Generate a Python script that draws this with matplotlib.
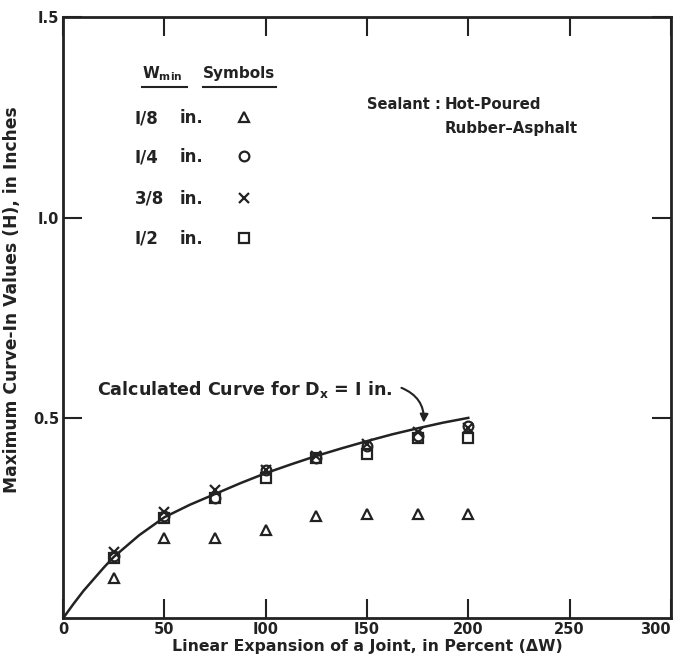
import matplotlib.pyplot as plt

# data
expansion = [25, 50, 75, 100, 125, 150, 175, 200]
h_1_8 = [0.10, 0.20, 0.20, 0.22, 0.255, 0.26, 0.26, 0.26]
h_1_4 = [0.155, 0.255, 0.30, 0.37, 0.40, 0.43, 0.455, 0.48]
h_3_8 = [0.165, 0.265, 0.32, 0.37, 0.405, 0.435, 0.465, 0.475]
h_1_2 = [0.15, 0.25, 0.30, 0.35, 0.40, 0.41, 0.45, 0.45]

curve_x = [0, 5, 10, 15, 20, 25, 37.5, 50, 62.5, 75, 87.5, 100, 112.5, 125,
           137.5, 150, 162.5, 175, 187.5, 200]
curve_y = [0, 0.035, 0.068, 0.097, 0.126, 0.153, 0.207, 0.252, 0.283, 0.31,
           0.337, 0.362, 0.384, 0.405, 0.424, 0.442, 0.459, 0.474, 0.488, 0.5]

wmin_labels = ['I/8', 'I/4', '3/8', 'I/2']
markers = ['^', 'o', 'x', 's']

plt.rcParams['font.family'] = 'DejaVu Sans'
plt.rcParams['font.weight'] = 'bold'
plt.rcParams['axes.labelweight'] = 'bold'

ink = '#222222'
fig = plt.figure(figsize=(6.79, 6.64), dpi=100)
ax = fig.add_axes([0.093, 0.069, 0.895, 0.905])

mk = dict(linestyle='none', mfc='none', mec=ink, color=ink, ms=7, mew=1.6)
ax.plot(expansion, h_1_8, marker='^', **mk)
ax.plot(expansion, h_1_4, marker='o', **mk)
ax.plot(expansion, h_3_8, marker='x', **mk)
ax.plot(expansion, h_1_2, marker='s', **mk)
ax.plot(curve_x, curve_y, color=ink, lw=1.8)

ax.set_xlim(0, 300)
ax.set_ylim(0, 1.5)
ax.set_xticks([0, 50, 100, 150, 200, 250, 300])
ax.set_xticklabels(['0', '50', 'I00', 'I50', '200', '250', '300'])
ax.get_xticklabels()[-1].set_horizontalalignment('right')
ax.set_yticks([0.5, 1.0, 1.5])
ax.set_yticklabels(['0.5', 'I.0', 'I.5'])
ax.tick_params(direction='in', length=14, width=1.5, top=True, right=True,
               labelsize=10.5, colors=ink, pad=3)
for s in ax.spines.values():
    s.set_linewidth(2)
    s.set_color(ink)

ax.set_xlabel('Linear Expansion of a Joint, in Percent (\u0394W)', fontsize=11.3, labelpad=1, color=ink)
ax.set_ylabel('Maximum Curve-In Values (H), in Inches', fontsize=12.3, color=ink)
ax.yaxis.set_label_coords(-0.07, 0.53)

# symbol table
ax.text(38.8, 1.36, 'W$_{\\mathbf{min}}$', fontsize=11, va='center', color=ink)
ax.text(69.2, 1.36, 'Symbols', fontsize=11, va='center', color=ink)
ax.plot([38.8, 60.9], [1.325, 1.325], color=ink, lw=1.5)
ax.plot([69.2, 105], [1.325, 1.325], color=ink, lw=1.5)
row_y = [1.25, 1.1525, 1.05, 0.95]
for lab, m, yy in zip(wmin_labels, markers, row_y):
    ax.text(35.3, yy - 0.015, lab, fontsize=12, va='baseline', color=ink)
    ax.text(57.4, yy - 0.015, 'in.', fontsize=12, va='baseline', color=ink)
    ax.plot(89.3, yy, marker=m, **mk)

ax.text(150.2, 1.2825, 'Sealant :', fontsize=10.5, va='center', color=ink)
ax.text(188.5, 1.2825, 'Hot-Poured', fontsize=10.8, va='center', color=ink)
ax.text(188.5, 1.2225, 'Rubber\u2013Asphalt', fontsize=10.8, va='center', color=ink)

ax.text(16.7, 0.57, 'Calculated Curve for D$_{\\mathbf{x}}$ = I in.', fontsize=12.6, va='center', color=ink)
ax.annotate('', xy=(178, 0.488), xytext=(167, 0.575),
            arrowprops=dict(arrowstyle='-|>', color=ink, lw=1.5, mutation_scale=12,
                            connectionstyle='arc3,rad=-0.35', shrinkA=0, shrinkB=0))

plt.savefig('out.png', dpi=100)
